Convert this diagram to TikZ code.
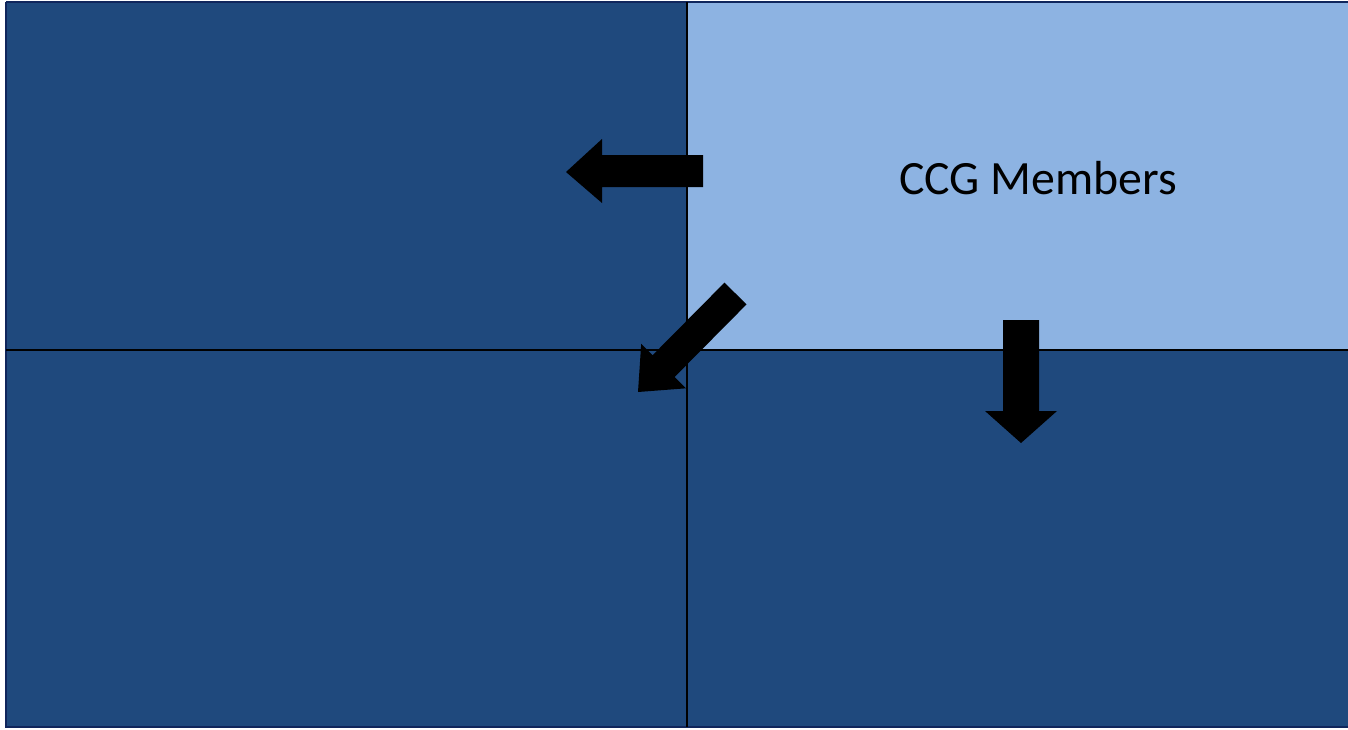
\documentclass[tikz,border=0pt]{standalone}
\usepackage{fontspec}
\setmainfont{Carlito}
\definecolor{navy}{RGB}{31,73,125}
\definecolor{sky}{RGB}{141,179,226}
\definecolor{edge}{RGB}{16,38,92}
\begin{document}
\begin{tikzpicture}[x=1pt,y=-1pt,
  quad/.style={draw=none,inner sep=0pt,outer sep=0pt,anchor=north west},
  blockarrow/.style={fill=black,draw=none},
  divider/.style={draw=black,line width=1.6pt}]
\useasboundingbox (0,0) rectangle (1348,729);
% four panels
\node[quad,fill=navy,minimum width=681pt,minimum height=348pt] (tl) at (6,2) {};
\node[quad,fill=sky,minimum width=661pt,minimum height=348pt] (tr) at (687,2) {};
\node[quad,fill=navy,minimum width=681pt,minimum height=377pt] (bl) at (6,350) {};
\node[quad,fill=navy,minimum width=661pt,minimum height=377pt] (br) at (687,350) {};
% outer frame and dividers
\draw[edge,line width=1.6pt] (tl.north west) -- (bl.south west) -- (br.south east);
\draw[edge,line width=1.2pt] (tl.north west) -- (tr.north east);
\draw[divider] (tl.south west) -- (tr.south east);
\draw[divider] (tl.north east) -- (bl.south east);
% label
\node[font=\fontsize{47.8}{57}\selectfont,text=black] (ccg) at (1038,178) {CCG Members};
% arrows
\fill[blockarrow] (703,155) -- (602,155) -- (602,139) -- (566,172) -- (602,203) -- (602,187) -- (703,187) -- cycle;
\fill[blockarrow] (724.5,282.6) -- (746.5,304.4) -- (674.6,377.0) -- (686,388.3) -- (638,392) -- (641.2,343.9) -- (652.6,355.2) -- cycle;
\fill[blockarrow] (1003,320) -- (1039,320) -- (1039,411) -- (1057,411) -- (1021,443) -- (985,411) -- (1003,411) -- cycle;
\end{tikzpicture}
\end{document}
